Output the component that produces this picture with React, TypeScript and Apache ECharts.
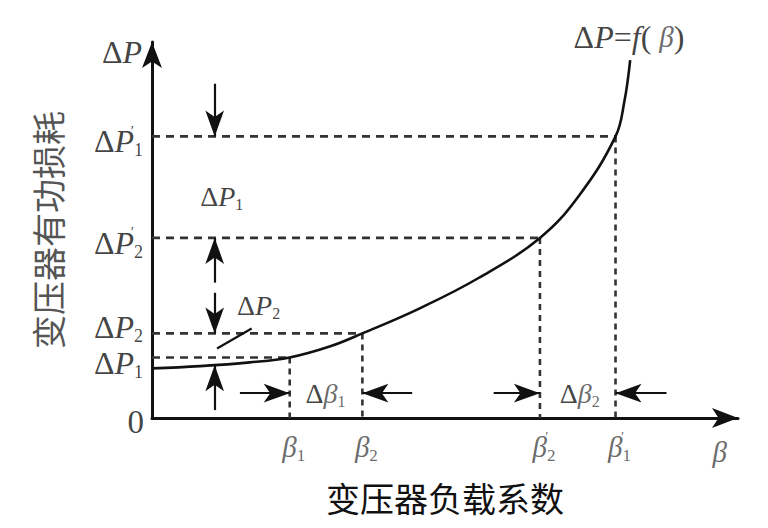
import React, { useEffect, useRef } from "react";
import * as echarts from "echarts";

// ---- data (axis units: 0..1 on both axes) ----
const betaCurve = [0, 0.082, 0.167, 0.235, 0.303, 0.359, 0.456, 0.558, 0.662, 0.728, 0.791, 0.806, 0.816];
const lossCurve = [0.132, 0.138, 0.148, 0.161, 0.19, 0.225, 0.291, 0.373, 0.479, 0.59, 0.749, 0.841, 0.952];

// β1, β2, β'2, β'1
const betaTicks = [0.235, 0.359, 0.662, 0.791];
const betaTickLabels = ["{b|β}{bs|1}", "{b|β}{bs|2}", "{b|β}{bq|′}{bs|2}", "{b|β}{bq|′}{bs|1}"];
// ΔP1, ΔP2, ΔP'2, ΔP'1
const lossTicks = [0.161, 0.225, 0.479, 0.749];
const lossTickLabels = ["{d|Δ}{p|P}{s|1}", "{d|Δ}{p|P}{s|2}", "{d|Δ}{p|P}{q|′}{s|2}", "{d|Δ}{p|P}{q|′}{s|1}"];

// vertical arrows on the loss side
const vArrowX = 0.107;
const vArrowFrom = [0.889, 0.36, 0.333, 0.021];
const vArrowTo = [0.749, 0.479, 0.225, 0.14];
// horizontal arrows marking Δβ
const hArrowY = 0.066;
const hArrowFrom = [0.15, 0.444, 0.583, 0.878];
const hArrowTo = [0.235, 0.359, 0.662, 0.791];

// leader line for ΔP2
const leaderX = [0.111, 0.17];
const leaderY = [0.185, 0.238];

// free annotation texts
const noteTexts = [
  "{d|Δ}{p|P}{s|1}",
  "{d|Δ}{p|P}{s|2}",
  "{d|Δ}{b|β}{bs|1}",
  "{d|Δ}{b|β}{bs|2}",
  "{d|Δ}{p|P}{e|=}{p|f}{e|( }{b|β}{e|)}",
];
const noteX = [0.119, 0.182, 0.296, 0.73, 0.814];
const noteY = [0.59, 0.299, 0.066, 0.066, 1.012];

const SERIF = "'Liberation Serif', 'DejaVu Serif', serif";
const CJK = "'Noto Sans CJK SC', sans-serif";
const INK = "#111";

const rich: any = {
  d: { fontFamily: SERIF, fontSize: 32, color: INK, lineHeight: 36 },
  p: { fontFamily: SERIF, fontSize: 32, fontStyle: "italic", color: INK, lineHeight: 36 },
  e: { fontFamily: SERIF, fontSize: 32, color: INK, lineHeight: 36 },
  s: { fontFamily: SERIF, fontSize: 18, color: INK, lineHeight: 18, verticalAlign: "bottom" },
  q: { fontFamily: SERIF, fontSize: 15, color: INK, lineHeight: 15, verticalAlign: "top", width: 0 },
  b: { fontFamily: SERIF, fontSize: 29, fontStyle: "italic", color: "#444", lineHeight: 34 },
  bs: { fontFamily: SERIF, fontSize: 17, color: "#444", lineHeight: 17, verticalAlign: "bottom" },
  bq: { fontFamily: SERIF, fontSize: 14, color: "#444", lineHeight: 14, verticalAlign: "top", width: 0 },
  z: { fontFamily: SERIF, fontSize: 33, color: INK, lineHeight: 36 },
};
const richSmall: any = {
  ...rich,
  d: { ...rich.d, fontSize: 28, lineHeight: 32 },
  p: { ...rich.p, fontSize: 28, lineHeight: 32 },
  b: { ...rich.b, fontSize: 28, lineHeight: 32 },
  s: { ...rich.s, fontSize: 16, lineHeight: 16 },
  bs: { ...rich.bs, fontSize: 16, lineHeight: 16 },
};

export default function App() {
  const ref = useRef<HTMLDivElement>(null);

  useEffect(() => {
    if (!ref.current) return;
    const chart = echarts.init(ref.current, undefined, { renderer: "svg" });

    // vertical nudges of the loss tick labels (style only)
    const lossLabelNudge = [6, -6, 5, 5];

    const dashed: any[] = [];
    betaTicks.forEach((b, i) => {
      const v = lossTicks[i];
      dashed.push({
        type: "line",
        data: [[0, v], [b, v]],
        symbol: "none",
        silent: true,
        lineStyle: { color: "#333", width: 2.6, type: [8, 6] },
      });
      dashed.push({
        type: "line",
        data: [[b, v], [b, 0]],
        symbol: "none",
        silent: true,
        lineStyle: { color: "#333", width: 2.6, type: [6, 5] },
      });
    });

    const arrowEnd = (x: number, y: number) => ({ coord: [x, y], symbol: "arrow", symbolSize: [14, 26] });
    const arrowStart = (x: number, y: number) => ({ coord: [x, y], symbol: "none" });
    const arrows: any[] = [];
    vArrowFrom.forEach((f, i) => arrows.push([arrowStart(vArrowX, f), arrowEnd(vArrowX, vArrowTo[i])]));
    hArrowFrom.forEach((f, i) => arrows.push([arrowStart(f, hArrowY), arrowEnd(hArrowTo[i], hArrowY)]));

    const labelData: any[] = [];
    lossTicks.forEach((v, i) =>
      labelData.push({
        value: [0, v],
        label: {
          show: true,
          formatter: lossTickLabels[i],
          position: "left",
          distance: 9,
          offset: [0, lossLabelNudge[i]],
          rich,
        },
      })
    );
    betaTicks.forEach((b, i) =>
      labelData.push({
        value: [b, 0],
        label: { show: true, formatter: betaTickLabels[i], position: "bottom", distance: 12, offset: [4, 0], rich },
      })
    );
    labelData.push({
      value: [0, 0],
      label: { show: true, formatter: "{z|0}", position: "left", distance: 8, offset: [0, 4], rich },
    });
    labelData.push({
      value: [0, 0.974],
      label: { show: true, formatter: "{d|Δ}{p|P}", position: "left", distance: 10, rich },
    });
    labelData.push({
      value: [0.969, 0],
      label: { show: true, formatter: "{b|β}", position: "bottom", distance: 17, rich },
    });
    noteTexts.forEach((t, i) =>
      labelData.push({
        value: [noteX[i], noteY[i]],
        label: { show: true, formatter: t, position: "inside", rich: i < 4 ? richSmall : rich },
      })
    );

    chart.setOption({
      animation: false,
      backgroundColor: "#fff",
      grid: { left: 152, right: 30, top: 42, bottom: 110, containLabel: false },
      xAxis: {
        type: "value",
        min: 0,
        max: 1,
        axisLabel: { show: false },
        axisTick: { show: false },
        splitLine: { show: false },
        axisLine: { show: true, lineStyle: { color: INK, width: 3 }, symbol: ["none", "arrow"], symbolSize: [15, 26] },
        name: "变压器负载系数",
        nameLocation: "middle",
        nameGap: 62,
        nameTextStyle: { fontFamily: CJK, fontSize: 34, color: "#111" },
      },
      yAxis: {
        type: "value",
        min: 0,
        max: 1,
        axisLabel: { show: false },
        axisTick: { show: false },
        splitLine: { show: false },
        axisLine: { show: true, lineStyle: { color: INK, width: 3 }, symbol: ["none", "arrow"], symbolSize: [15, 26] },
        name: "变压器有功损耗",
        nameLocation: "middle",
        nameGap: 88,
        nameRotate: 90,
        nameTextStyle: { fontFamily: CJK, fontSize: 34, color: "#555" },
      },
      series: [
        ...dashed,
        {
          type: "line",
          data: betaCurve.map((b, i) => [b, lossCurve[i]]),
          symbol: "none",
          smooth: 0.4,
          silent: true,
          clip: false,
          lineStyle: { color: INK, width: 2.6 },
          z: 5,
        },
        {
          type: "line",
          data: leaderX.map((x, i) => [x, leaderY[i]]),
          symbol: "none",
          silent: true,
          lineStyle: { color: INK, width: 2.2 },
        },
        {
          type: "scatter",
          data: labelData,
          symbolSize: 0,
          silent: true,
          clip: false,
          z: 10,
          markLine: {
            silent: true,
            animation: false,
            label: { show: false },
            lineStyle: { color: INK, width: 2.2, type: "solid" },
            symbol: ["none", "arrow"],
            data: arrows,
          },
        },
      ],
    });

    return () => chart.dispose();
  }, []);

  return <div ref={ref} style={{ position: "fixed", left: 0, top: 0, width: 768, height: 528, background: "#fff" }} />;
}
